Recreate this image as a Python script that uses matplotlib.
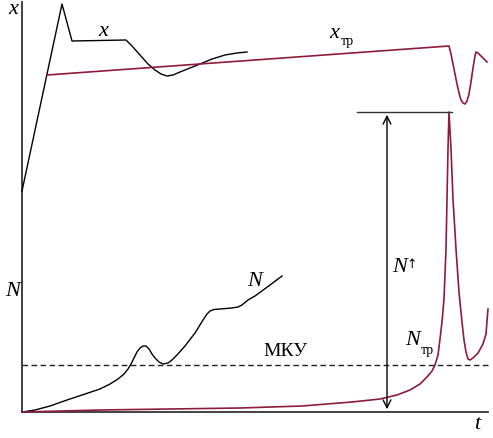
import matplotlib
matplotlib.use("Agg")
import matplotlib.pyplot as plt

# schematic: time t along the axis, level on the vertical axis (arbitrary units)
x_t = [0, 40, 50, 104, 110, 118, 126, 133, 139, 145, 151, 158, 168, 178, 190, 203, 215, 225]
x_v = [221, 408, 371, 372, 366, 357, 348, 342, 338, 336, 337, 340, 344, 348, 353, 357, 359, 360]

xtr_t = [25, 427, 429, 431, 433, 435, 437, 439, 441, 443, 445, 447, 449, 451, 453, 454, 456, 459, 465]
xtr_v = [337, 366, 358, 348, 338, 328, 319, 312, 309, 308, 311, 318, 330, 344, 356, 360, 359, 356, 350]

n_t = [0, 13, 28, 45, 63, 78, 88, 96, 102, 106, 109, 112, 115, 118, 121, 124, 127, 130,
       133, 137, 141, 146, 150, 155, 163, 173, 181, 185, 188, 192, 198, 210, 216, 220,
       226, 233, 248, 260]
n_v = [0, 2, 6, 12, 18, 23, 28, 33, 38, 43, 48, 54, 60, 64, 66, 66, 63, 58,
       54, 50, 48, 49, 52, 57, 66, 79, 92, 98, 101, 102.5, 103, 104, 105, 107,
       112, 116, 127, 136]

ntr_t = [0, 78, 218, 280, 330, 358, 375, 388, 398, 405, 410, 413, 416, 418, 420, 422,
         424, 425, 426, 427, 429, 431, 434, 437, 440, 442, 444, 446, 448, 451, 456,
         461, 464, 465, 466]
ntr_v = [0, 2, 4, 6, 10, 13, 17, 22, 28, 35, 41, 47, 57, 73, 90, 113,
         163, 213, 263, 300, 263, 213, 163, 120, 90, 72, 60, 53, 52, 54, 59,
         68, 78, 91, 103]

mku_level = 47
n_jump_top = 300
n_jump_t = 365
t_end = 466
v_top = 410

red = "#8e1b3c"
serif = ["Liberation Serif", "DejaVu Serif"]

fig = plt.figure(figsize=(4.93, 4.39), dpi=100)
ax = fig.add_axes([0, 0, 1, 1])
ax.set_xlim(-22, 471)
ax.set_ylim(-26, 413)
ax.axis("off")

# axes
ax.plot([0, 0], [0, v_top], color="#333333", lw=1.3)
ax.plot([0, t_end], [0, 0], color="#333333", lw=1.3)

# curves
ax.plot(x_t, x_v, color="black", lw=1.0)
ax.plot(xtr_t, xtr_v, color=red, lw=1.2)
ax.plot(n_t, n_v, color="black", lw=1.0)
ax.plot(ntr_t, ntr_v, color=red, lw=1.2)

# MKU level
ax.plot([0, t_end], [mku_level, mku_level], color="#222222", lw=1.0, ls=(0, (4, 2.5)))

# jump marker
ax.plot([335, 430], [n_jump_top, n_jump_top], color="#333333", lw=1.0)
ax.annotate("", xy=(n_jump_t, n_jump_top), xytext=(n_jump_t, 0),
            arrowprops=dict(arrowstyle="<->", color="black", lw=1.0, mutation_scale=14))

it = dict(family=serif, style="italic", ha="center", va="center")
up = dict(family=serif, ha="center", va="center")
ax.text(-9, 404, "x", fontsize=16, **it)
ax.text(81, 381, "x", fontsize=16, **it)
ax.text(312, 380, "x", fontsize=16, **it)
ax.text(325, 371, "тр", fontsize=10, **up)
ax.text(-9, 122, "N", fontsize=16, **it)
ax.text(233, 132, "N", fontsize=16, **it)
ax.text(378, 146, "N", fontsize=16, **it)
ax.text(390, 148, "↑", fontsize=9, family=["DejaVu Sans"], ha="center", va="center")
ax.text(263, 61, "МКУ", fontsize=14, **up)
ax.text(391, 72, "N", fontsize=16, **it)
ax.text(405, 62, "тр", fontsize=10, **up)
ax.text(455, -12, "t", fontsize=16, **it)

fig.savefig("out.png", dpi=100)
